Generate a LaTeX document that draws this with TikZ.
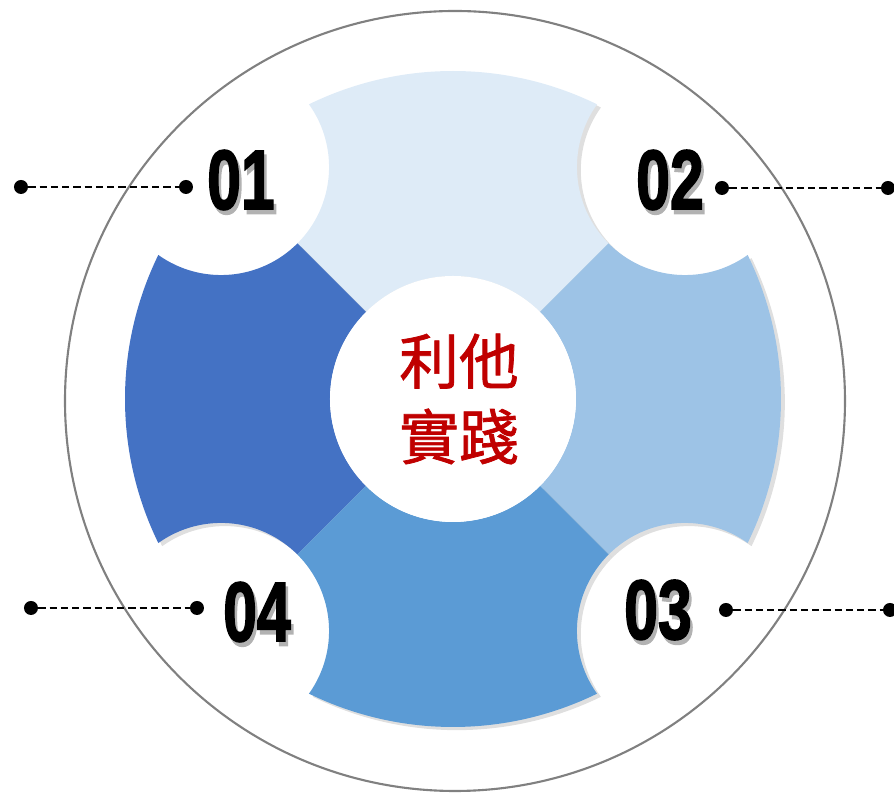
\documentclass[tikz,border=0pt]{standalone}
\usepackage{fontspec}
\newfontfamily\cjk{Noto Sans CJK TC}[FakeBold=1.2]
\newfontfamily\numfont{Liberation Sans}[FakeBold=2.2]
\usetikzlibrary{positioning}
\usetikzlibrary{shadows}

\definecolor{segtop}{HTML}{DEEBF7}
\definecolor{segright}{HTML}{9DC3E6}
\definecolor{segbottom}{HTML}{5B9BD5}
\definecolor{segleft}{HTML}{4472C4}
\definecolor{titlered}{HTML}{C00000}

% one quarter of the ring, from angle #1 to #1+90
\newcommand{\ringpart}[1]{({#1}:123) -- ({#1}:220)
    arc[start angle={#1+180}, end angle={#1+99.475}, radius=108]
    arc[start angle={#1+18.95}, end angle={#1+71.05}, radius=328]
    arc[start angle={#1-9.475}, end angle={#1-90}, radius=108]
    -- ({#1+90}:123) arc[start angle={#1+90}, end angle={#1}, radius=123] -- cycle}

\newcommand{\shadowed}[1]{\makebox[0pt][l]{\kern2pt\raisebox{-2.5pt}[0pt][0pt]{\color{black!30}#1}}#1}

\tikzset{
    seg/.style={drop shadow={shadow xshift=2.2pt, shadow yshift=-1.8pt, opacity=0.25}},
    numlbl/.style={inner sep=0pt, font=\numfont\bfseries\fontsize{48}{48}\selectfont},
    dot/.style={circle, fill=black, minimum size=0.28cm, inner sep=0pt},
    leader/.style={dash pattern=on 4.2pt off 2.2pt, line width=1.1pt}
}

\begin{document}
\begin{tikzpicture}[x=0.02cm, y=0.02cm]
    \useasboundingbox (-453,-394) rectangle (441,399);

    \fill[seg, segtop] \ringpart{45};
    \fill[seg, segleft] \ringpart{135};
    \fill[seg, segright] \ringpart{-45};
    \fill[seg, segbottom] \ringpart{225};

    \node[circle, fill=white, minimum size=246*0.02cm, inner sep=0pt, name=hub] at (0,0) {};
    \draw[black!50, line width=1.2pt] (2,-2) circle[radius=390];

    \node[align=center, text=titlered, font=\cjk\fontsize{34}{43}\selectfont, name=title] at (6,0) {利他\\實踐};

    \node[numlbl, name=n1] at (-212,219) {\scalebox{0.72}[1]{\shadowed{01}}};
    \node[numlbl, name=n2] at (217,219) {\scalebox{0.72}[1]{\shadowed{02}}};
    \node[numlbl, name=n3] at (205,-211) {\scalebox{0.72}[1]{\shadowed{03}}};
    \node[numlbl, name=n4] at (-196,-213) {\scalebox{0.72}[1]{\shadowed{04}}};

    \node[dot, name=d1a] at (-432,212) {};
    \node[dot, name=d1b] at (-267,212) {};
    \node[dot, name=d2a] at (269,211) {};
    \node[dot, name=d2b] at (435,211) {};
    \node[dot, name=d3a] at (273,-211) {};
    \node[dot, name=d3b] at (437,-211) {};
    \node[dot, name=d4a] at (-422,-209) {};
    \node[dot, name=d4b] at (-256,-209) {};

    \draw[leader] (d1a) -- (d1b);
    \draw[leader] (d2a) -- (d2b);
    \draw[leader] (d3a) -- (d3b);
    \draw[leader] (d4a) -- (d4b);
\end{tikzpicture}
\end{document}
